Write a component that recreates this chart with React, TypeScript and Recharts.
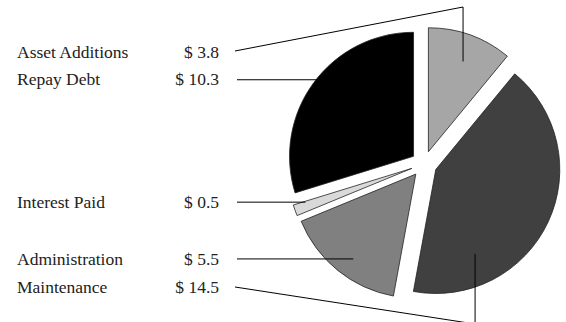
import React from "react";
import { PieChart, Pie, Cell } from "recharts";

// data
const names = ["Asset Additions", "Maintenance", "Administration", "Interest Paid", "Repay Debt"];
const values = [3.8, 14.5, 5.5, 0.5, 10.3];
const fills = ["#a6a6a6", "#404040", "#808080", "#d9d9d9", "#000000"];

const data = names.map((name, i) => ({ name, value: values[i] }));

// layout
const W = 566;
const H = 322;
const CX = 424;
const CY = 164;
const R = 124;
const EXPLODE = 13;
const FONT = "'Liberation Serif', 'Times New Roman', serif";

// label rows: text baseline, and where the leader line ends inside the slice
// angle is clockwise from 12 o'clock, frac is fraction of radius
const labelLayout: Record<string, { y: number; angle: number; frac: number; elbow?: [number, number] }> = {
  "Asset Additions": { y: 58, angle: 21, frac: 0.78, elbow: [51, 7] },
  "Repay Debt": { y: 85, angle: 312.7, frac: 0.91 },
  "Interest Paid": { y: 208, angle: 252.4, frac: 0.9 },
  Administration: { y: 265, angle: 216.4, frac: 0.85 },
  Maintenance: { y: 293, angle: 155, frac: 0.75, elbow: [287, 324] },
};

const total = values.reduce((a, b) => a + b, 0);
const RAD = Math.PI / 180;

// center of every exploded slice, pushed out along its mid angle
let acc = 0;
const sliceCenters = values.map((v) => {
  const start = 90 - (acc / total) * 360;
  acc += v;
  const end = 90 - (acc / total) * 360;
  const mid = (start + end) / 2;
  return { cx: CX + EXPLODE * Math.cos(mid * RAD), cy: CY - EXPLODE * Math.sin(mid * RAD) };
});

const makeLabel = (slice: number) => (props: any) => {
  if (props.index !== slice) return null;
  const name = names[slice];
  const lay = labelLayout[name];
  const c = sliceCenters[slice];
  const ax = c.cx + lay.frac * R * Math.sin(lay.angle * RAD);
  const ay = c.cy - lay.frac * R * Math.cos(lay.angle * RAD);
  const points = lay.elbow
    ? `235,${lay.elbow[0]} ${ax},${lay.elbow[1]} ${ax},${ay}`
    : `237,${ay} ${ax},${ay}`;
  return (
    <g>
      <polyline points={points} fill="none" stroke="#000" strokeWidth={1} />
      <text x={17} y={lay.y} fontFamily={FONT} fontSize={17.5} fill="#222">
        {name}
      </text>
      <text x={219} y={lay.y} textAnchor="end" fontFamily={FONT} fontSize={17.5} fill="#222">
        $ {values[slice]}
      </text>
    </g>
  );
};

export default function App() {
  return (
    <div style={{ position: "absolute", left: 0, top: 0, background: "#fff" }}>
      <PieChart width={W} height={H} margin={{ top: 0, right: 0, bottom: 0, left: 0 }}>
        {names.map((_, s) => (
          <Pie
            key={s}
            data={data}
            dataKey="value"
            nameKey="name"
            cx={sliceCenters[s].cx}
            cy={sliceCenters[s].cy}
            outerRadius={R}
            startAngle={90}
            endAngle={-270}
            labelLine={false}
            label={makeLabel(s)}
            isAnimationActive={false}
          >
            {data.map((d, i) => (
              <Cell
                key={d.name}
                fill={i === s ? fills[i] : "none"}
                stroke={i === s ? "#222" : "none"}
                strokeWidth={0.8}
              />
            ))}
          </Pie>
        ))}
      </PieChart>
    </div>
  );
}
